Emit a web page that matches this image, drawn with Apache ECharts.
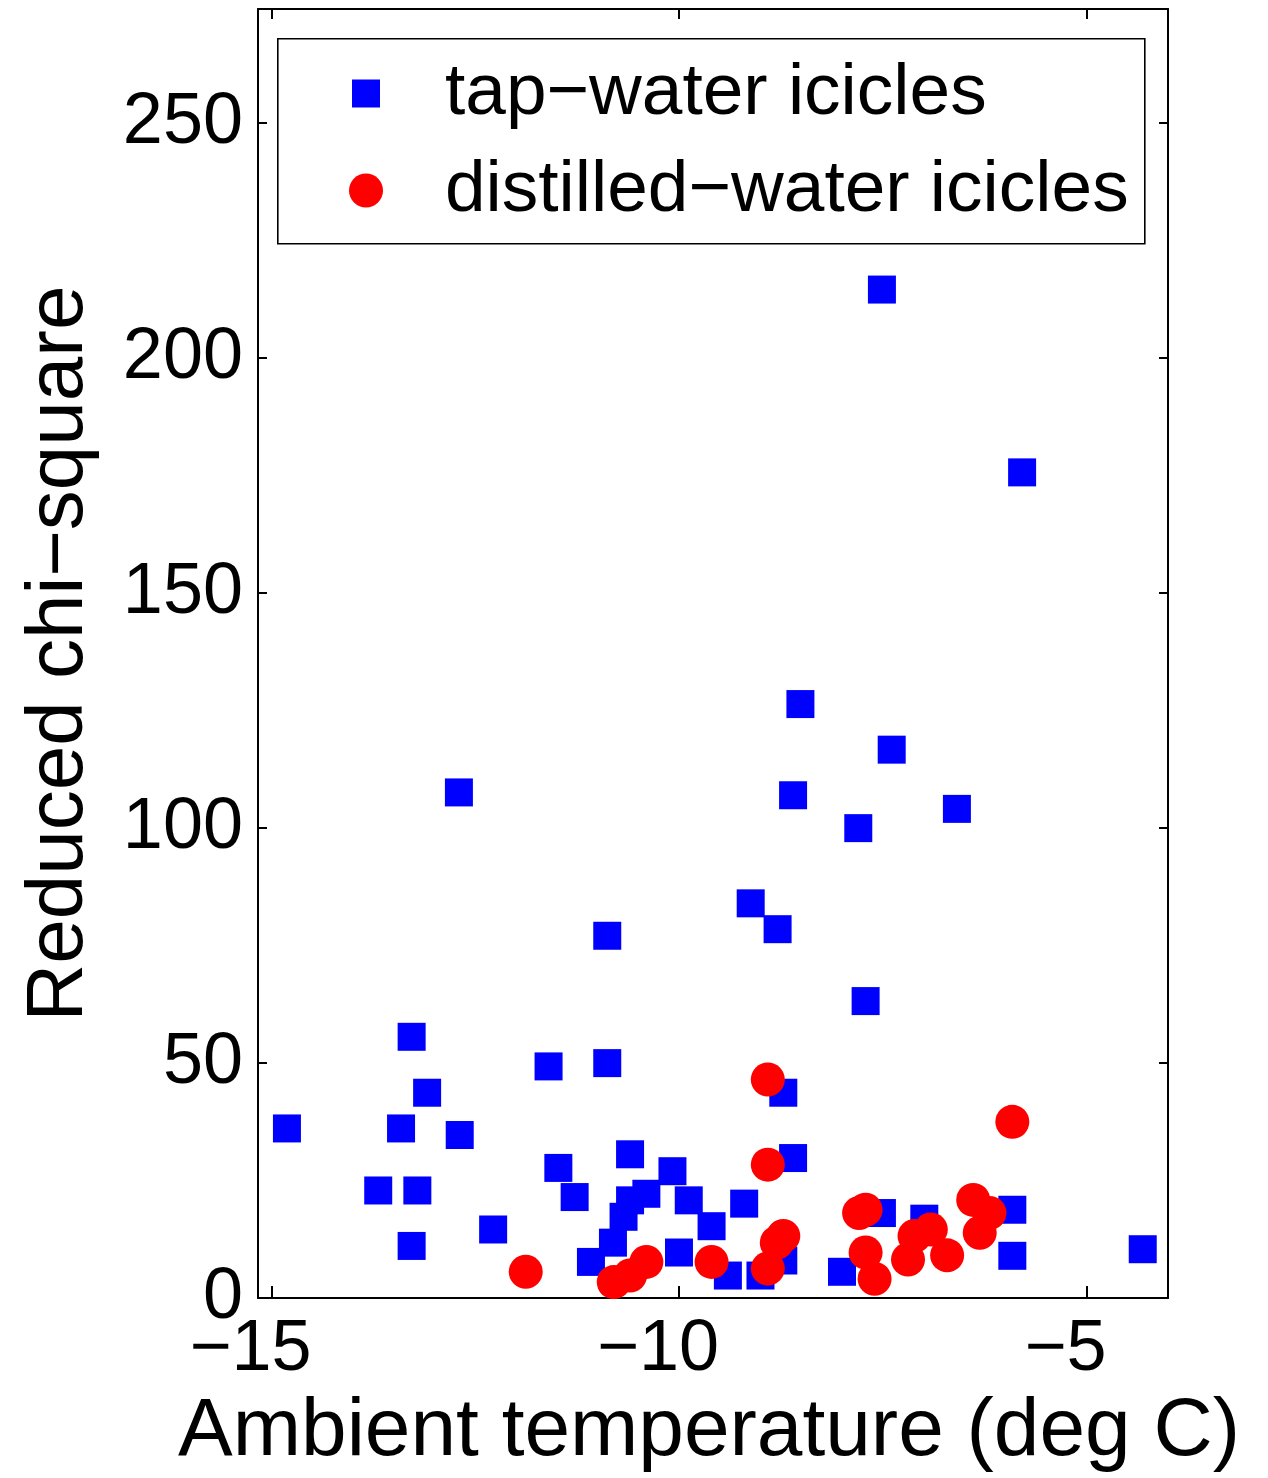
<!DOCTYPE html>
<html>
<head>
<meta charset="utf-8">
<script src="https://cdn.jsdelivr.net/npm/echarts@6/dist/echarts.min.js"></script>
<style>
html,body{margin:0;padding:0;background:#fff;}
#chart{width:1268px;height:1478px;}
</style>
</head>
<body>
<div id="chart"></div>
<script>
// ---- data ----
const tapName = 'tap\u2212water icicles';
const distName = 'distilled\u2212water icicles';

const tapX = [-14.81, -13.69, -13.41, -13.28, -13.28, -13.21, -13.09, -12.70, -12.69, -12.28,
              -11.60, -11.48, -11.28, -11.08, -10.88, -10.88, -10.81, -10.68, -10.60, -10.60,
              -10.40, -10.08, -10.00, -9.88, -9.60, -9.40, -9.20, -9.12, -9.00, -8.79,
              -8.72, -8.72, -8.60, -8.60, -8.51, -8.00, -7.80, -7.71, -7.51, -7.51,
              -7.39, -6.99, -6.59, -5.91, -5.91, -5.79, -4.31];
const tapY = [36.1, 22.9, 36.1, 55.6, 11.1, 22.9, 43.7, 107.6, 34.7, 14.6,
              49.3, 27.7, 21.5, 7.7, 50.0, 77.1, 11.8, 17.3, 20.8, 30.6,
              22.2, 27.0, 9.7, 20.8, 15.3, 4.8, 20.1, 84.0, 4.8, 78.5,
              8.0, 43.7, 29.8, 107.0, 126.4, 5.6, 100.0, 63.2, 18.1, 214.6,
              116.7, 16.9, 104.1, 18.8, 9.0, 175.7, 10.4];

const distX = [-11.88, -10.80, -10.60, -10.40, -9.60, -8.91, -8.91, -8.91, -8.80, -8.72,
               -7.79, -7.71, -7.71, -7.60, -7.19, -7.11, -6.91, -6.71, -6.39, -6.31,
               -6.19, -5.91];
const distY = [5.6, 3.4, 4.8, 7.7, 7.7, 46.5, 28.4, 6.3, 11.8, 13.2,
               18.1, 18.8, 9.7, 4.1, 8.2, 13.2, 14.6, 9.1, 20.9, 13.9,
               18.1, 37.5];

const xTicks = [-15, -10, -5];
const yTicks = [0, 50, 100, 150, 200, 250];
const xTitle = 'Ambient temperature (deg C)';
const yTitle = 'Reduced chi\u2212square';

// ---- chart ----
const FONT = '"Liberation Sans", Arial, Helvetica, sans-serif';
const pairs = (xs, ys) => xs.map((x, i) => [x, ys[i]]);
const X_MIN = -15.165, X_MAX = -4.0, Y_MIN = 0, Y_MAX = 274.3;

const lineStyle = { color: '#000', width: 2 };

const chart = echarts.init(document.getElementById('chart'), null, { renderer: 'canvas' });
chart.setOption({
  animation: false,
  backgroundColor: '#fff',
  textStyle: { fontFamily: FONT },
  grid: { left: 258, right: 100, top: 9, bottom: 178, containLabel: false },
  xAxis: [
    {
      type: 'value', position: 'bottom', min: X_MIN, max: X_MAX,
      name: xTitle, nameLocation: 'middle', nameGap: 91,
      nameTextStyle: { fontSize: 82, color: '#000', fontFamily: FONT, padding: [0, 8, 0, 0] },
      axisLine: { show: true, onZero: false, lineStyle },
      axisTick: { show: true, inside: true, length: 12, customValues: xTicks, lineStyle: { color: '#000', width: 2 } },
      axisLabel: {
        show: true, customValues: xTicks, fontSize: 72, color: '#000', fontFamily: FONT, margin: 16,
        padding: [0, 42, 0, 0],
        formatter: v => (v < 0 ? '\u2212' : '') + Math.abs(v)
      },
      splitLine: { show: false }
    },
    {
      type: 'value', position: 'top', min: X_MIN, max: X_MAX,
      axisLine: { show: true, onZero: false, lineStyle },
      axisTick: { show: true, inside: true, length: 10, customValues: xTicks, lineStyle: { color: '#000', width: 2 } },
      axisLabel: { show: false },
      splitLine: { show: false }
    }
  ],
  yAxis: [
    {
      type: 'value', position: 'left', min: Y_MIN, max: Y_MAX,
      name: yTitle, nameLocation: 'middle', nameGap: 158, nameRotate: 90,
      nameTextStyle: { fontSize: 80, color: '#000', fontFamily: FONT },
      axisLine: { show: true, onZero: false, lineStyle },
      axisTick: { show: true, inside: true, length: 9, customValues: yTicks, lineStyle: { color: '#000', width: 2 } },
      axisLabel: { show: true, customValues: yTicks, fontSize: 72, color: '#000', fontFamily: FONT, margin: 15, padding: [4, 0, 0, 0] },
      splitLine: { show: false }
    },
    {
      type: 'value', position: 'right', min: Y_MIN, max: Y_MAX,
      axisLine: { show: true, onZero: false, lineStyle },
      axisTick: { show: true, inside: true, length: 9, customValues: yTicks, lineStyle: { color: '#000', width: 2 } },
      axisLabel: { show: false },
      splitLine: { show: false }
    }
  ],
  graphic: [
    {
      type: 'rect', left: 277, top: 38, z: 1,
      shape: { width: 867, height: 205 },
      style: { fill: '#fff', stroke: '#000', lineWidth: 1.6 }
    }
  ],
  legend: [
    {
      data: [tapName], orient: 'vertical', left: 352, top: 57, padding: 0, z: 10,
      icon: 'rect', itemWidth: 28, itemHeight: 28,
      textStyle: { fontSize: 73, color: '#000', fontFamily: FONT, padding: [18, 0, 0, 60] },
      selectedMode: false
    },
    {
      data: [distName], orient: 'vertical', left: 349, top: 154, padding: 0, z: 10,
      icon: 'circle', itemWidth: 34, itemHeight: 34,
      textStyle: { fontSize: 73, color: '#000', fontFamily: FONT, padding: [18, 0, 0, 57] },
      selectedMode: false
    }
  ],
  series: [
    {
      name: tapName, type: 'scatter', xAxisIndex: 0, yAxisIndex: 0,
      symbol: 'rect', symbolSize: 28,
      itemStyle: { color: '#0000ff', opacity: 1 },
      data: pairs(tapX, tapY), z: 3
    },
    {
      name: distName, type: 'scatter', xAxisIndex: 0, yAxisIndex: 0,
      symbol: 'circle', symbolSize: 34,
      itemStyle: { color: '#ff0000', opacity: 1 },
      data: pairs(distX, distY), z: 4
    }
  ]
});
</script>
</body>
</html>
